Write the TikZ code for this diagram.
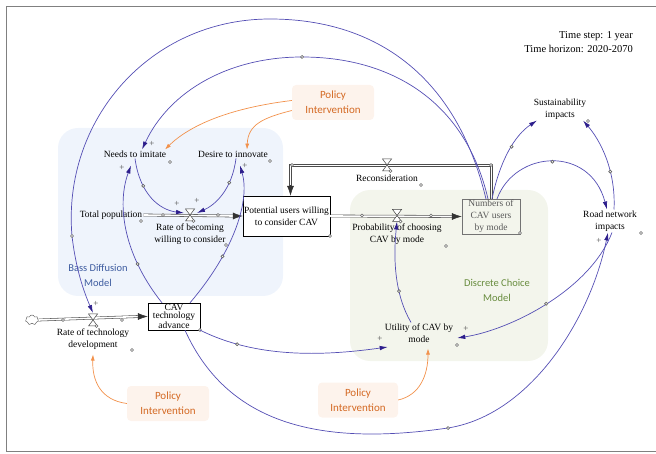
\documentclass[tikz,border=0pt]{standalone}
\usepackage{fontspec}
\setmainfont{Liberation Serif}
\newfontfamily\calib{Carlito}
\usetikzlibrary{arrows.meta,shapes.symbols}
\definecolor{linkblue}{RGB}{84,78,180}
\definecolor{tipblue}{RGB}{45,30,140}
\definecolor{polorange}{RGB}{242,145,75}
\definecolor{poltext}{RGB}{212,105,35}
\definecolor{polfill}{RGB}{253,243,236}
\definecolor{bassfill}{RGB}{239,244,252}
\definecolor{bassblue}{RGB}{62,92,160}
\definecolor{dcfill}{RGB}{243,245,236}
\definecolor{dcgreen}{RGB}{104,140,62}
\tikzset{inner sep=1pt}

\begin{document}
\begin{tikzpicture}[x=1pt,y=-1pt,
        var/.style={align=center,font=\fontsize{9.5}{12}\selectfont},
        stock/.style={draw,align=center,font=\fontsize{9.5}{12}\selectfont},
        policy/.style={fill=polfill,rounded corners=4pt,text=poltext,align=center,
            font=\calib\fontsize{11}{15}\selectfont,minimum width=82pt,minimum height=35pt},
        link/.style={linkblue,line width=0.7pt,-{Latex[length=8pt,width=4.5pt,color=tipblue]}},
        polarrow/.style={polorange,line width=0.7pt,-{Latex[length=6pt,width=4pt]}},
        pipe/.style={draw=black!70,double=white,double distance=1.6pt,line width=0.55pt},
        pipeedge/.style={black!70,line width=0.55pt},
        pipetip/.style={-{Latex[length=10pt,width=7pt]},black!80,line width=0.5pt},
        handle/.style={circle,draw=black!60,fill=white,inner sep=0pt,minimum size=3pt},
        plus/.style={font=\fontsize{9}{9}\selectfont,text=black!70}]
        \useasboundingbox (0,0) rectangle (656,454);
        \draw[black!50,line width=1pt] (656,7) -- (6,7) -- (6,451) -- (656,451);
        \fill[bassfill,rounded corners=20pt] (58,128) rectangle (283,296);
        \fill[dcfill,rounded corners=20pt] (350,190) rectangle (548,361);
        \node[var,font=\fontsize{10.5}{14}\selectfont,align=right,anchor=east] (timeinfo) at (634,42) {Time step: 1 year\\Time horizon: 2020-2070};
        \node[text=bassblue,align=center,font=\calib\fontsize{10.5}{15}\selectfont] (basslabel) at (98,275) {Bass Diffusion\\Model};
        \node[text=dcgreen,align=center,font=\calib\fontsize{10.5}{15}\selectfont] (dclabel) at (497,290) {Discrete Choice\\Model};
        \node[policy] (pol1) at (333,102.5) {Policy\\Intervention};
        \node[policy] (pol2) at (168,403.5) {Policy\\Intervention};
        \node[policy,minimum width=80pt] (pol3) at (358,400) {Policy\\Intervention};
        \node[var] (needs) at (135,154) {Needs to imitate};
        \node[var] (desire) at (233,154) {Desire to innovate};
        \node[var] (totpop) at (111,215) {Total population};
        \node[stock,fill=white,minimum width=87pt,minimum height=40pt] (potential) at (286.5,216) {Potential users willing\\to consider CAV};
        \node[stock,draw=black!55,text=black!65,fill=dcfill,minimum width=58pt,minimum height=33pt] (numbers) at (491,216.5) {Numbers of\\CAV users\\by mode};
        \node[stock,fill=white,minimum width=52pt,minimum height=27pt,font=\fontsize{9.5}{8}\selectfont] (tech) at (174,316.5) {CAV\\technology\\advance};
        \node[var] (sust) at (560,109) {Sustainability\\impacts};
        \node[var] (road) at (610,221) {Road network\\impacts};
        \node[var] (utility) at (419,333) {Utility of CAV by\\mode};
        \node[cloud,cloud puffs=7,draw=black!70,minimum width=13pt,minimum height=10pt,inner sep=0pt] (cloud) at (32,320) {};
        \coordinate (v1) at (190,215);
        \coordinate (v2) at (397,215.5);
        \coordinate (v3) at (387,165);
        \coordinate (v4) at (93,320);
        \coordinate (rc1) at (491,165);
        \coordinate (rc2) at (290.5,165);
        \coordinate (rc3) at (290.5,186);
        \node[var] (ratebec) at (190,234) {Rate of becoming\\willing to consider};
        \node[var] (recon) at (387,178) {Reconsideration};
        \node[var] (prob) at (397,234) {Probability of choosing\\CAV by mode};
        \node[var] (ratetech) at (93,339) {Rate of technology\\development};
        \draw[pipe] (totpop.east) -- ([xshift=-9pt]potential.west);
        \draw[pipetip] ([xshift=-10pt]potential.west) -- (potential.west);
        \draw[pipe] (potential.east) -- ([xshift=-9pt]numbers.west);
        \draw[pipetip] ([xshift=-10pt]numbers.west) -- (numbers.west);
        \draw[pipe] (cloud.east) -- ([xshift=-9pt]tech.west);
        \draw[pipetip] ([xshift=-10pt]tech.west) -- (tech.west);
        \draw[pipeedge] ([xshift=-1.2pt]numbers.north) -- ([shift={(-1.2,1.2)}]rc1) -- ([shift={(1.2,1.2)}]rc2) -- ([xshift=1.2pt]rc3);
        \draw[pipeedge] ([xshift=1.2pt]numbers.north) -- ([shift={(1.2,-1.2)}]rc1) -- ([shift={(-1.2,-1.2)}]rc2) -- ([xshift=-1.2pt]rc3);
        \draw[pipetip] ([yshift=1pt]rc3) -- (rc2 |- potential.north);
        \foreach \v in {v1,v2,v3,v4}{
            \draw[black!75,fill=white,line width=0.5pt] ([shift={(-4.5,-6)}]\v) -- ([shift={(4.5,-6)}]\v) -- ([shift={(-4.5,6)}]\v) -- ([shift={(4.5,6)}]\v) -- cycle;
            \node[handle] at ([shift={(3.5,6)}]\v) {};
        }
        \foreach \hx/\hy in {170/162,270/161,141/221,226/245,421/185,446/246,588/121,641/233,457/345,132/350,330/236,520/233,200/330,163/215,218/215,362/215.5,431/215.5,63/320,122/320,292/165,491/165}
            \node[handle] at (\hx,\hy) {};
        \draw[link] ([xshift=-5pt]numbers.north) .. controls (455,70) and (370,19) .. (270,19) .. controls (150,19) and (62,120) .. (72,236) node[handle]{} .. controls (76,270) and (84,292) .. ([yshift=7pt]v4);
        \draw[link] ([xshift=-3pt]numbers.north) .. controls (465,100) and (390,57) .. (302,57) node[handle]{} .. controls (230,57) and (170,90) .. ([xshift=7pt]needs.north);
        \draw[link] ([xshift=1pt]numbers.north) .. controls (500,160) and (515,135) .. node[handle,pos=0.55]{} ([xshift=-23pt]sust.south);
        \draw[link] ([xshift=6pt]numbers.north) .. controls (515,150) and (590,145) .. node[handle,pos=0.5]{} ([xshift=-3pt]road.north);
        \draw[link] ([xshift=4pt]road.north) .. controls (616,170) and (600,140) .. node[handle,pos=0.35]{} ([xshift=23pt]sust.south);
        \draw[link] ([xshift=11pt]tech.south) .. controls (230,430) and (330,445) .. (448,428) node[handle]{} .. controls (530,415) and (590,320) .. ([xshift=-2pt]road.south);
        \draw[link] ([xshift=2pt]road.south) .. controls (590,290) and (510,330) .. node[handle,pos=0.5]{} ([xshift=3pt,yshift=-5pt]utility.east);
        \draw[link] (tech.south east) .. controls (260,360) and (330,355) .. node[handle,pos=0.2]{} ([xshift=4pt,yshift=-14pt]utility.west);
        \draw[link] ([xshift=-8pt]utility.north) .. controls (395,295) and (393,260) .. node[handle,pos=0.35]{} ([yshift=-6pt]v2);
        \draw[link] ([xshift=-12pt]tech.north) .. controls (120,250) and (118,200) .. node[handle,pos=0.25]{} ([xshift=-4pt,yshift=-7pt]needs.south);
        \draw[link] ([xshift=16pt]tech.north) .. controls (235,250) and (250,200) .. node[handle,pos=0.3]{} ([xshift=7pt,yshift=-7pt]desire.south);
        \draw[link] (needs.south) .. controls (140,195) and (160,210) .. node[handle,pos=0.3]{} ([xshift=-6pt,yshift=2pt]v1);
        \draw[link] ([xshift=3pt]desire.south) .. controls (232,190) and (215,205) .. node[handle,pos=0.3]{} ([xshift=7pt,yshift=2pt]v1);
        \draw[polarrow] ([yshift=2pt]pol1.west) .. controls (230,108) and (190,125) .. ([xshift=30pt]needs.north);
        \draw[polarrow] ([yshift=-8pt]pol1.west) .. controls (262,118) and (248,125) .. ([xshift=14pt]desire.north);
        \draw[polarrow] (pol2.west) .. controls (100,400) and (92,380) .. ([yshift=-4pt]ratetech.south);
        \draw[polarrow] (pol3.east) .. controls (420,395) and (428,375) .. ([xshift=9pt,yshift=-5pt]utility.south);
        \foreach \px/\py in {152/144,122/168,245/166,177/204,197/201,96/304,599/241,466/329,380/339}
            \node[plus] at (\px,\py) {+};
    \end{tikzpicture}
\end{document}
